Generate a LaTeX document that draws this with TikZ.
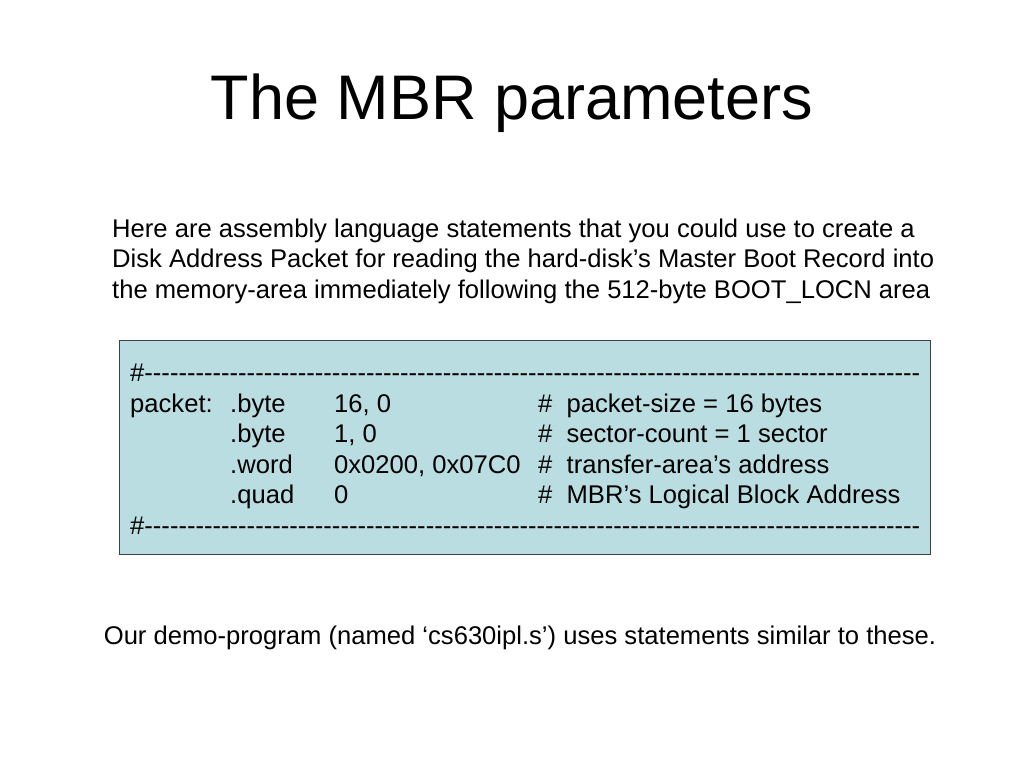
\documentclass[tikz,border=0pt]{standalone}
\usepackage{fontspec}
\setmainfont{Liberation Sans}
\newfontfamily\codefont{Liberation Sans}[Ligatures=TeXOff]
\definecolor{boxblue}{RGB}{186,221,226}
\definecolor{boxline}{RGB}{60,66,70}
\newcommand\codedashes{\#\foreach \i in {1,...,91}{-}}

\begin{document}
\begin{tikzpicture}
  [x=1pt,y=-1pt,every node/.style={inner sep=0pt,anchor=base},
   body/.style={font=\fontsize{25.6}{30.7}\selectfont},
   code/.style={anchor=base west,font=\codefont\fontsize{25.6}{30.7}\selectfont}]

  \useasboundingbox (0,0) rectangle (1024,768);

  \node[font=\fontsize{63}{75}\selectfont] (title) at (512,119) {The MBR parameters};

  \node[body,anchor=base west] (intro1) at (112,237) {Here are assembly language statements that you could use to create a};
  \node[body,anchor=base west] (intro2) at (112,267.5) {Disk Address Packet for reading the hard-disk’s Master Boot Record into};
  \node[body,anchor=base west] (intro3) at (112,298) {the memory-area immediately following the 512-byte BOOT\_LOCN area};

  \node[draw=boxline,fill=boxblue,line width=1pt,anchor=center,
        minimum width=811pt,minimum height=214pt] (codebox) at (524.5,447) {};

  \node[code] (rule1) at (130,381) {\codedashes};
  \foreach \lab/\op/\val/\com [count=\r from 0] in
    {packet:/.byte/{16, 0}/{packet-size = 16 bytes},
     {}/.byte/{1, 0}/{sector-count = 1 sector},
     {}/.word/{0x0200, 0x07C0}/{transfer-area’s address},
     {}/.quad/0/{MBR’s Logical Block Address}}
  {
    \node[code] (lab\r) at (130,{412+30.5*\r}) {\lab};
    \node[code] (op\r)  at (230,{412+30.5*\r}) {\op};
    \node[code] (val\r) at (334,{412+30.5*\r}) {\val};
    \node[code] (com\r) at (538,{412+30.5*\r}) {\#~~\com};
  }
  \node[code] (rule2) at (130,534) {\codedashes};

  \node[body] (demo) at (520,644) {Our demo-program (named ‘cs630ipl.s’) uses statements similar to these.};
\end{tikzpicture}
\end{document}
